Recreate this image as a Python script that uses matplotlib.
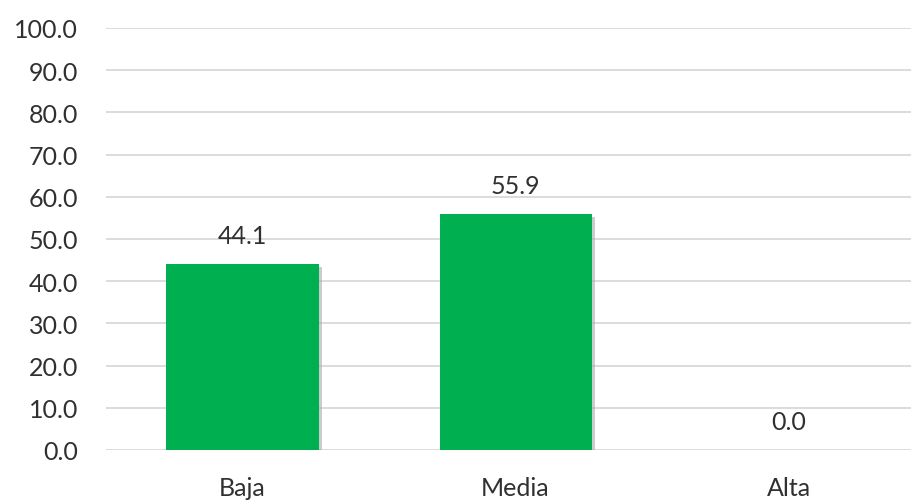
import matplotlib.pyplot as plt
import matplotlib.patheffects as pe

categories = ["Baja", "Media", "Alta"]
values = [44.1, 55.9, 0.0]
yticks = [0, 10, 20, 30, 40, 50, 60, 70, 80, 90, 100]

plt.rcParams["font.family"] = ["Lato", "DejaVu Sans"]
text_color = "#303030"

fig = plt.figure(figsize=(9.12, 5.02), dpi=100)
ax = fig.add_axes([106 / 912, 1 - 451 / 502, 1 - 106 / 912, (451 - 29) / 502])

bars = ax.bar(range(len(categories)), values, width=0.557, color="#00B050", zorder=3)
for b in bars:
    b.set_path_effects([pe.SimplePatchShadow(offset=(2.5, -2), shadow_rgbFace="#aaaaaa", alpha=0.6),
                        pe.Normal()])

for i, v in enumerate(values):
    ax.annotate(f"{v:.1f}", (i, v), xytext=(0, 12), textcoords="offset points",
                ha="center", va="bottom", fontsize=18, color=text_color)

ax.set_ylim(0, 100)
ax.set_xlim(-0.5, 2.452)
ax.set_yticks(yticks)
ax.set_yticklabels([f"{t:.1f}" for t in yticks])
ax.set_xticks(range(len(categories)))
ax.set_xticklabels(categories)
ax.tick_params(axis="both", length=0, labelsize=18, colors=text_color)
ax.tick_params(axis="y", pad=20)
ax.tick_params(axis="x", pad=19)

ax.grid(axis="y", color="#d9d9d9", linewidth=1.3, zorder=0)
for s in ax.spines.values():
    s.set_visible(False)

fig.savefig("out.png", dpi=100)
